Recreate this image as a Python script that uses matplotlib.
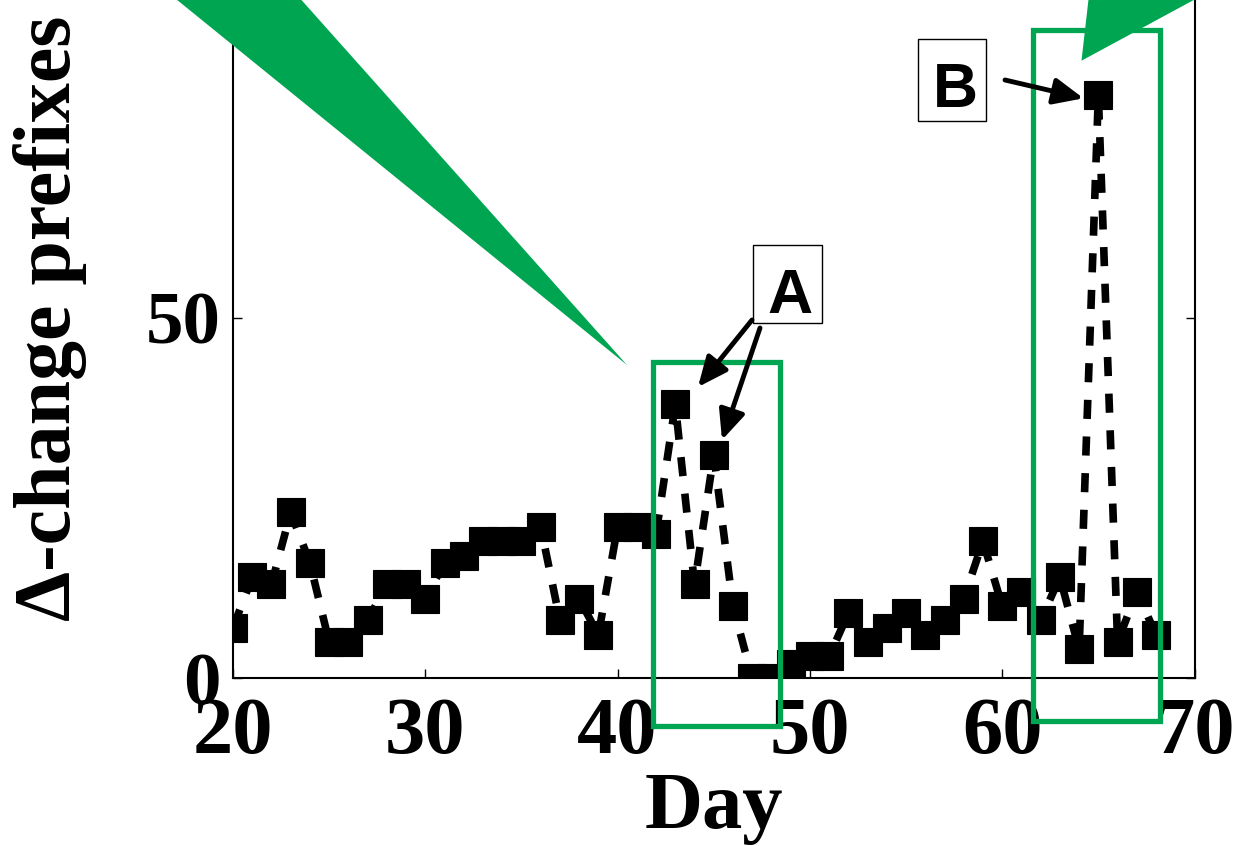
import matplotlib
matplotlib.use("Agg")
import matplotlib.pyplot as plt
from matplotlib.patches import Rectangle, Polygon, FancyArrowPatch

# data
days = list(range(20, 69))
prefixes = [7, 14, 13, 23, 16, 5, 5, 8, 13, 13,     # 20-29
            11, 16, 17, 19, 19, 19, 21, 8, 11, 6,   # 30-39
            21, 21, 20, 38, 13, 31, 10, 0, 0, 2,    # 40-49
            3, 3, 9, 5, 7, 9, 6, 8, 11, 19,         # 50-59
            10, 12, 8, 14, 4, 81, 5, 12, 6]         # 60-68
x_ticks = [20, 30, 40, 50, 60, 70]
y_ticks = [0, 50]

W, H = 1237, 846
green = '#00A551'
serif = ['Liberation Serif', 'DejaVu Serif']
sans = ['Liberation Sans', 'DejaVu Sans']


def fp(x, y):
    # pixel (from top left) -> figure fraction
    return (x / W, 1 - y / H)


fig = plt.figure(figsize=(W / 100, H / 100), dpi=100)
ax = fig.add_axes([233 / W, (H - 678) / H, 961.5 / W, 720 / H])

ax.plot(days, prefixes, color='k', linestyle='--', dashes=(2.5, 2.3), linewidth=5.5,
        marker='s', markersize=19.5, markerfacecolor='k', markeredgecolor='k',
        markeredgewidth=0.8, zorder=2)

ax.set_xlim(20, 70)
ax.set_ylim(0, 100)
ax.set_xticks(x_ticks)
ax.set_yticks(y_ticks)
ax.tick_params(direction='in', length=6.5, width=1, top=True, right=True, pad=9)
ax.tick_params(axis='x', pad=13.5)
for lab in ax.get_xticklabels():
    lab.set_fontfamily(serif)
    lab.set_fontweight('bold')
    lab.set_fontsize(58)
for lab in ax.get_yticklabels():
    lab.set_fontfamily(serif)
    lab.set_fontweight('bold')
    lab.set_fontsize(54)
for sp in ax.spines.values():
    sp.set_linewidth(1.5)

ax.set_xlabel('Day', fontsize=58, fontweight='bold', family=serif)
ax.set_ylabel('\u0394-change prefixes', fontsize=57.5, fontweight='bold', family=serif)
ax.xaxis.set_label_coords(0.5, -0.131)
ax.yaxis.set_label_coords(-0.152, 0.5)

# green highlight boxes (data coords)
for x0, x1, y0, y1 in [(41.84, 48.47, -6.67, 43.9), (61.62, 68.22, -5.93, 90.0)]:
    ax.add_patch(Rectangle((x0, y0), x1 - x0, y1 - y0, fill=False, edgecolor=green,
                           linewidth=3.8, clip_on=False, zorder=4))

# green callout wedges
for pts in [[(171, -5), (297, -5), (627, 365)],
            [(1089, -5), (1203, -5), (1081.5, 60.7)]]:
    fig.add_artist(Polygon([fp(*p) for p in pts], closed=True, facecolor=green,
                           edgecolor='none', transform=fig.transFigure, zorder=6))

# label boxes and arrows
for (bx0, by0, bx1, by1), txt, (tx, ty) in [((753, 245, 822, 323), 'A', (790, 313)),
                                            ((918, 39, 986, 121), 'B', (955.5, 107))]:
    fig.add_artist(Rectangle(fp(bx0, by1), (bx1 - bx0) / W, (by1 - by0) / H,
                             facecolor='white', edgecolor='k', linewidth=1,
                             transform=fig.transFigure, zorder=7))
    fig.text(*fp(tx, ty), txt, ha='center', va='baseline', fontsize=45,
             fontweight='bold', family=sans, zorder=8)

for start, end in [((752, 320), (698, 387)), ((760, 328), (722, 440)),
                   ((1005, 80), (1083.5, 98.3))]:
    fig.add_artist(FancyArrowPatch(fp(*start), fp(*end), transform=fig.transFigure,
                                   arrowstyle='-|>,head_length=0.9,head_width=0.4',
                                   mutation_scale=20, linewidth=3.5, color='k',
                                   shrinkA=0, shrinkB=0, zorder=7))

fig.savefig('out.png', dpi=100)
